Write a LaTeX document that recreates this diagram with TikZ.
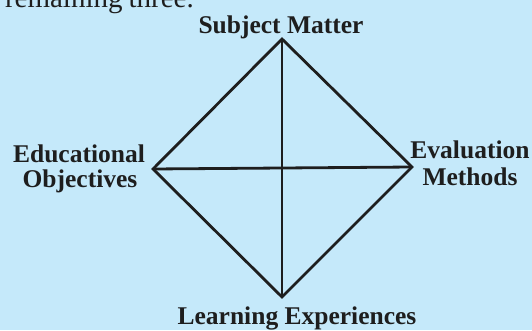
\documentclass[tikz,border=0pt]{standalone}
\usepackage{fontspec}
\setmainfont{Liberation Serif}
\usetikzlibrary{positioning}
\definecolor{bgblue}{RGB}{197,233,250}
\definecolor{ink}{RGB}{30,30,30}

\begin{document}
\begin{tikzpicture}[x=1pt,y=1pt]
\tikzstyle{every node}=[inner sep=0pt, text=ink]
\tikzstyle{lbl}=[anchor=base, font=\fontsize{25.5}{25}\selectfont\bfseries]
\tikzstyle{edge}=[draw=ink, line width=2.8pt, line join=miter]
\clip (0,0) rectangle (532,330);
\fill[bgblue] (0,0) rectangle (532,330);
\node (prev) [anchor=base east, font=\fontsize{29}{30}\selectfont] at (194,322.5) {remaining\hspace{6pt}three.};
\coordinate (top) at (282,291);
\coordinate (bot) at (282,33);
\coordinate (lft) at (153,161);
\coordinate (rgt) at (412,163);
\draw[edge] (top) -- (rgt) -- (bot) -- (lft) -- cycle;
\draw[edge] (top) -- (bot);
\draw[edge] (lft) -- (rgt);
\node (subj) [lbl] at (281,296) {Subject Matter};
\node (edu1) [lbl] at (79,168) {Educational};
\node (edu2) [lbl] at (80,143) {Objectives};
\node (eva1) [lbl] at (470,172) {Evaluation};
\node (eva2) [lbl] at (470,145) {Methods};
\node (learn) [lbl] at (297,6) {Learning Experiences};
\end{tikzpicture}
\end{document}
